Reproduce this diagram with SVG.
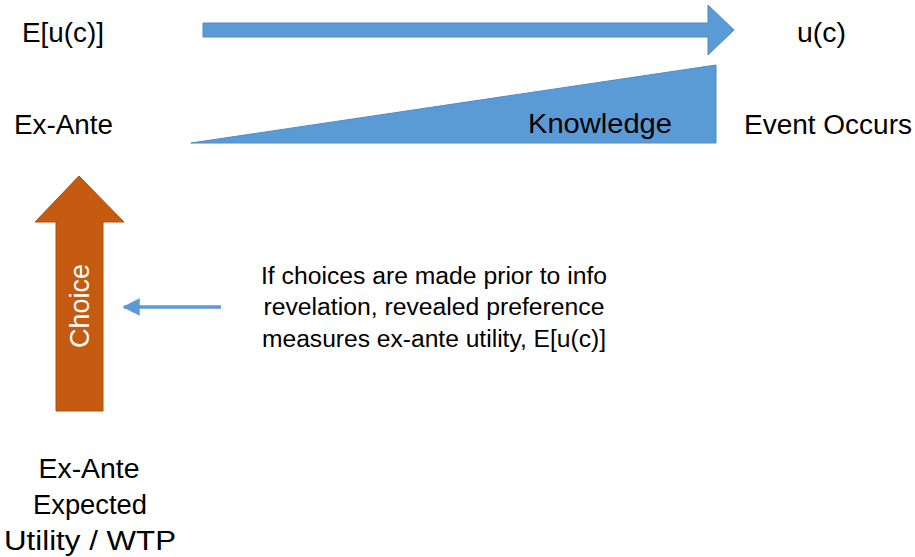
<svg xmlns="http://www.w3.org/2000/svg" width="915" height="557" viewBox="0 0 915 557">
<style>
  text { font-family: "Liberation Sans", Arial, sans-serif; fill: #000; }
  .lbl { font-size: 27px; }
  .note { font-size: 23px; text-anchor: middle; }
  .blue { fill: #5B9BD5; stroke: #4F8BC4; stroke-width: 1; }
</style>
<defs>
  <marker id="ah" markerWidth="5" markerHeight="5" refX="4.5" refY="2.5" orient="auto" markerUnits="strokeWidth">
    <path d="M0,0 L5,2.5 L0,5 Z" fill="#5B9BD5"/>
  </marker>
</defs>
<g id="time-arrow">
  <path class="blue" d="M203,23 L708,23 L708,5 L734,30 L708,55 L708,37 L203,37 Z"/>
</g>
<g id="knowledge">
  <path class="blue" d="M191,143 L716,65 L716,143 Z"/>
  <text x="528" y="133" font-size="28" textLength="144" lengthAdjust="spacingAndGlyphs">Knowledge</text>
</g>
<g id="eu"><text class="lbl" x="22" y="42" textLength="82" lengthAdjust="spacingAndGlyphs">E[u(c)]</text></g>
<g id="uc"><text class="lbl" x="797" y="42" textLength="49" lengthAdjust="spacingAndGlyphs">u(c)</text></g>
<g id="exante"><text class="lbl" x="14" y="134" textLength="99" lengthAdjust="spacingAndGlyphs">Ex-Ante</text></g>
<g id="event"><text class="lbl" x="744" y="134" textLength="168" lengthAdjust="spacingAndGlyphs">Event Occurs</text></g>
<g id="choice">
  <path d="M56,411 L56,222 L35,222 L79,176 L124,222 L103,222 L103,411 Z" fill="#C55A11" stroke="#B0500F" stroke-width="1"/>
  <text transform="translate(89,306) rotate(-90)" font-size="27" text-anchor="middle" style="fill:#fff">Choice</text>
</g>
<g id="note">
  <text class="note" x="434" y="284" textLength="346" lengthAdjust="spacingAndGlyphs">If choices are made prior to info</text>
  <text class="note" x="434" y="315" textLength="341" lengthAdjust="spacingAndGlyphs">revelation, revealed preference</text>
  <text class="note" x="434" y="347" textLength="344" lengthAdjust="spacingAndGlyphs">measures ex-ante utility, E[u(c)]</text>
</g>
<g id="bottom" text-anchor="middle">
  <text class="lbl" x="89" y="478" textLength="101" lengthAdjust="spacingAndGlyphs">Ex-Ante</text>
  <text class="lbl" x="90" y="514" textLength="114" lengthAdjust="spacingAndGlyphs">Expected</text>
  <text class="lbl" x="90" y="550" textLength="172" lengthAdjust="spacingAndGlyphs">Utility / WTP</text>
</g>
<g id="connectors">
  <line x1="221" y1="307" x2="124" y2="307" stroke="#5B9BD5" stroke-width="3.5" marker-end="url(#ah)"/>
</g>
</svg>
